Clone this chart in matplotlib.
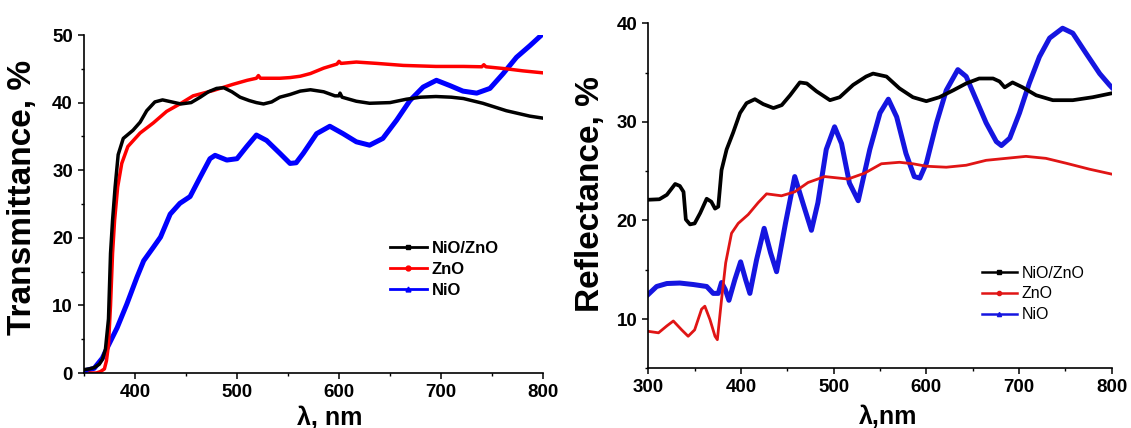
import matplotlib
matplotlib.use('Agg')
import matplotlib.pyplot as plt
from matplotlib.lines import Line2D
from matplotlib.ticker import MultipleLocator

plt.rcParams['font.family'] = ['Liberation Sans', 'DejaVu Sans']
plt.rcParams['font.weight'] = 'bold'

# ---- left panel : transmittance ----
wl_T_nz = [350, 355, 360, 365, 368, 371, 374, 376, 378, 380.5, 383.5, 388.5, 398, 405, 411.5,
           419.5, 427, 436, 445, 455, 464, 472, 480, 487, 495, 503, 512, 519, 526, 534, 542,
           552, 562, 572, 585, 596, 600, 601, 603, 617, 630, 650, 666, 680, 695, 710, 722,
           741, 764, 787, 800]
T_nz = [0.5, 0.6, 0.8, 1.3, 2.0, 3.5, 8.0, 17.7, 22.6, 27.5, 32.3, 34.7, 35.9, 37.1, 38.8,
        40.1, 40.4, 40.1, 39.8, 40.0, 40.8, 41.6, 42.1, 42.2, 41.6, 40.8, 40.3, 40.0, 39.8,
        40.1, 40.8, 41.2, 41.7, 41.9, 41.6, 41.0, 41.0, 41.4, 40.8, 40.2, 39.9, 40.0, 40.5,
        40.8, 40.9, 40.8, 40.6, 39.9, 38.8, 38.0, 37.7]

wl_T_zn = [356, 362, 366, 370, 372, 374, 376, 378, 380, 383, 387, 393, 405, 418, 431, 444,
           457, 477, 496, 510, 519, 521, 523, 542, 552, 562, 572, 585, 598, 600, 602, 617,
           637, 663, 695, 722, 740, 742, 744, 764, 780, 800]
T_zn = [0.0, 0.0, 0.2, 0.6, 1.8, 4.2, 10.0, 17.7, 22.6, 27.5, 31.0, 33.5, 35.5, 37.0, 38.7,
        39.8, 41.0, 41.8, 42.7, 43.3, 43.6, 44.0, 43.6, 43.6, 43.7, 43.9, 44.3, 45.1, 45.7,
        46.1, 45.8, 46.0, 45.8, 45.5, 45.35, 45.35, 45.3, 45.6, 45.3, 45.0, 44.7, 44.4]

wl_T_ni = [350, 360, 368, 373, 382.5, 392, 402, 408.5, 418, 425, 434.5, 444, 454, 464, 473.5,
           478.5, 490, 500, 509.5, 519, 529, 542, 552, 558, 565, 578, 591, 604, 617, 630, 643,
           656.5, 669.5, 682.5, 695.5, 709, 721.5, 735, 748, 761, 774, 787, 800]
T_ni = [0.3, 0.7, 2.2, 3.8, 6.7, 10.2, 14.2, 16.6, 18.6, 20.1, 23.5, 25.1, 26.1, 29.0, 31.7,
        32.2, 31.5, 31.7, 33.5, 35.2, 34.4, 32.5, 31.0, 31.1, 32.5, 35.4, 36.5, 35.4, 34.2,
        33.7, 34.7, 37.4, 40.3, 42.3, 43.3, 42.5, 41.7, 41.4, 42.1, 44.3, 46.7, 48.4, 50.2]

# ---- right panel : reflectance ----
wl_R_nz = [300, 312, 320, 329, 334, 338, 340.5, 345, 350, 356, 363, 368, 372, 375.5, 379,
           384.5, 391.5, 399, 406, 415, 424, 435, 444, 453, 463.5, 471, 481.5, 496, 506.5,
           521, 535, 542.5, 557, 571, 585.5, 600, 614, 629, 643, 657, 672, 679, 684.5, 693,
           704, 718.5, 736.5, 758, 779.5, 800]
R_nz = [22.1, 22.15, 22.6, 23.7, 23.5, 22.9, 20.1, 19.6, 19.7, 20.75, 22.2, 21.9, 21.2, 21.4,
        25.1, 27.2, 28.9, 30.9, 31.9, 32.3, 31.8, 31.4, 31.7, 32.7, 34.0, 33.9, 33.1, 32.2,
        32.5, 33.75, 34.6, 34.9, 34.6, 33.4, 32.5, 32.1, 32.5, 33.2, 33.9, 34.4, 34.4, 34.1,
        33.5, 34.0, 33.5, 32.7, 32.2, 32.2, 32.5, 32.9]

wl_R_zn = [300, 311, 320, 327, 336, 343, 350, 357.5, 361, 366.5, 372, 374.5, 379, 383.5,
           389.8, 397, 407.8, 418.5, 427.6, 443.7, 458, 472.4, 490.4, 515.5, 533.5, 551.5,
           571, 585.5, 600, 621.5, 643, 664.5, 686, 707.5, 729, 751, 776, 800]
R_zn = [8.75, 8.6, 9.3, 9.8, 8.9, 8.25, 8.9, 11.0, 11.3, 9.95, 8.25, 7.9, 11.95, 15.7,
        18.7, 19.7, 20.6, 21.8, 22.7, 22.5, 22.9, 23.85, 24.45, 24.2, 24.8, 25.75,
        25.9, 25.75, 25.5, 25.4, 25.6, 26.1, 26.3, 26.5, 26.3, 25.8, 25.2, 24.7]

wl_R_ni = [300, 309, 320, 334, 348.5, 363, 370, 375.5, 379, 383, 387, 393.4, 399.6, 405,
           409.6, 416.8, 425, 432, 438.4, 448, 458, 468, 476, 483, 492, 501, 508.5, 517,
           526.5, 539, 550, 559, 568, 578, 587, 593, 600, 611, 621.5, 634, 643, 654, 664.5,
           675.5, 681, 690, 700.5, 711, 722, 733, 747, 758, 772, 787, 797.5, 800]
R_ni = [12.5, 13.3, 13.6, 13.65, 13.5, 13.3, 12.6, 12.6, 13.7, 13.0, 11.9, 14.0, 15.8, 14.0,
        12.6, 16.0, 19.2, 16.7, 14.8, 19.7, 24.45, 21.4, 19.0, 21.8, 27.2, 29.5, 27.8, 23.8,
        22.0, 27.2, 30.9, 32.3, 30.5, 26.8, 24.45, 24.3, 25.8, 29.9, 33.2, 35.3, 34.6, 32.2,
        29.9, 28.0, 27.6, 28.35, 30.9, 33.9, 36.6, 38.5, 39.5, 39.0, 37.0, 34.9, 33.75, 33.5]

labels = ['NiO/ZnO', 'ZnO', 'NiO']

W, H = 1131, 428
fig = plt.figure(figsize=(W / 100, H / 100), dpi=100)
ax1 = fig.add_axes([84 / W, (H - 373) / H, 459 / W, 338 / H])
ax2 = fig.add_axes([648.3 / W, (H - 368.3) / H, 463.4 / W, 345 / H])


def style_axes(ax):
    for s in ['top', 'right']:
        ax.spines[s].set_visible(False)
    for s in ['left', 'bottom']:
        ax.spines[s].set_linewidth(1.2)
    ax.tick_params(which='major', direction='out', length=4.5, width=1.1, labelsize=13.5, pad=3.5)
    ax.tick_params(which='minor', direction='out', length=2.5, width=1)


# transmittance
ax1.plot(wl_T_nz, T_nz, color='black', lw=2.5, zorder=3)
ax1.plot(wl_T_zn, T_zn, color='#ff0000', lw=2.5, zorder=2)
ax1.plot(wl_T_ni, T_ni, color='#0000ff', lw=3.6, zorder=1)
ax1.set_xlim(350, 800)
ax1.set_ylim(0, 50)
ax1.xaxis.set_minor_locator(MultipleLocator(50))
ax1.yaxis.set_major_locator(MultipleLocator(10))
ax1.yaxis.set_minor_locator(MultipleLocator(5))
ax1.set_xticks([400, 500, 600, 700, 800])
style_axes(ax1)
ax1.set_ylabel('Transmittance, %', fontsize=24, fontweight='bold')
ax1.yaxis.set_label_coords(-0.101, 0.518)
ax1.set_xlabel('λ, nm', fontsize=18, fontweight='bold')
ax1.xaxis.set_label_coords(0.536, -0.098)

h1 = [Line2D([], [], color='black', lw=2, marker='s', ms=3.5),
      Line2D([], [], color='#ff0000', lw=2, marker='o', ms=3.5),
      Line2D([], [], color='#0000ff', lw=2, marker='^', ms=3.5)]
ax1.legend(h1, labels, loc='upper left', bbox_to_anchor=(390 / W, 1 - 241 / H),
           bbox_transform=fig.transFigure, frameon=False, borderpad=0, borderaxespad=0,
           handlelength=2.2, handletextpad=0.3, labelspacing=0.36,
           prop={'weight': 'bold', 'size': 12})

# reflectance
ax2.plot(wl_R_nz, R_nz, color='black', lw=2.7, zorder=3)
ax2.plot(wl_R_zn, R_zn, color='#e01515', lw=2.0, zorder=2)
ax2.plot(wl_R_ni, R_ni, color='#1515e0', lw=3.6, zorder=1)
ax2.set_xlim(300, 800)
ax2.set_ylim(5, 40)
ax2.xaxis.set_major_locator(MultipleLocator(100))
ax2.xaxis.set_minor_locator(MultipleLocator(50))
ax2.set_yticks([10, 20, 30, 40])
ax2.yaxis.set_minor_locator(MultipleLocator(5))
style_axes(ax2)
ax2.set_ylabel('Reflectance, %', fontsize=24, fontweight='bold')
ax2.yaxis.set_label_coords(-0.091, 0.505)
ax2.set_xlabel('λ,nm', fontsize=18, fontweight='bold')
ax2.xaxis.set_label_coords(0.517, -0.106)

h2 = [Line2D([], [], color='black', lw=1.8, marker='s', ms=3),
      Line2D([], [], color='#e01515', lw=1.8, marker='o', ms=3),
      Line2D([], [], color='#1515e0', lw=1.8, marker='^', ms=3)]
ax2.legend(h2, labels, loc='upper left', bbox_to_anchor=(981.7 / W, 1 - 265.5 / H),
           bbox_transform=fig.transFigure, frameon=False, borderpad=0, borderaxespad=0,
           handlelength=2.2, handletextpad=0.3, labelspacing=0.375,
           prop={'weight': 'normal', 'size': 11.5})

fig.savefig('out.png', dpi=100)
